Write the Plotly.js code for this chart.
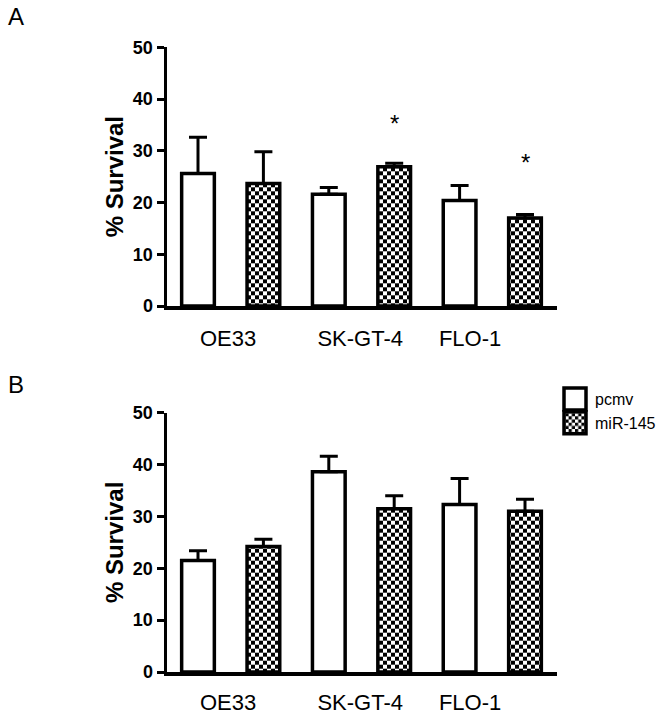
<!DOCTYPE html>
<html>
<head>
<meta charset="utf-8">
<script src="https://cdn.plot.ly/plotly-3.0.1.min.js"></script>
<style>
html,body{margin:0;padding:0;background:#fff;}
#chart{width:665px;height:715px;}
</style>
</head>
<body>
<div id="chart"></div>
<script>
// ---- data ----
var categories = ["OE33", "SK-GT-4", "FLO-1"];
var seriesNames = ["pcmv", "miR-145"];

// Panel A
var A_pcmv = [25.6, 21.6, 20.4];
var A_pcmv_err = [7.0, 1.3, 2.9];
var A_mir = [23.7, 26.9, 17.0];
var A_mir_err = [6.1, 0.7, 0.7];
var A_mir_sig = ["", "*", "*"];
var A_sigY = [0, 36.0, 28.5];

// Panel B
var B_pcmv = [21.5, 38.6, 32.3];
var B_pcmv_err = [1.9, 3.0, 5.0];
var B_mir = [24.2, 31.5, 31.0];
var B_mir_err = [1.4, 2.5, 2.3];

var yTicks = [0, 10, 20, 30, 40, 50];
var catTickPos = [0.46, 2.48, 4.16];

// ---- build ----
var xP = categories.map(function(c, i){ return 2*i; });
var xM = categories.map(function(c, i){ return 2*i + 1; });
var zeros = categories.map(function(){ return 0; });

var lineW = 3.5;
var barW = 0.5;

function barTrace(x, y, err, name, patterned, xa, ya, showleg){
  var t = {
    type: 'bar', x: x, y: y, name: name, width: barW,
    xaxis: xa, yaxis: ya, showlegend: showleg, legendgroup: name,
    marker: {color: 'white', line: {color: 'black', width: lineW}},
    error_y: {type: 'data', array: err, arrayminus: zeros, symmetric: false,
              color: 'black', thickness: 3, width: 9},
    hoverinfo: 'x+y'
  };
  if (patterned) {
    t.marker.pattern = {shape: '.', size: 8, solidity: 0.5, fgcolor: 'black', bgcolor: 'white', fillmode: 'replace'};
  }
  return t;
}

var data = [
  barTrace(xP, A_pcmv, A_pcmv_err, seriesNames[0], false, 'x', 'y', false),
  barTrace(xM, A_mir, A_mir_err, seriesNames[1], true, 'x', 'y', false),
  barTrace(xP, B_pcmv, B_pcmv_err, seriesNames[0], false, 'x2', 'y2', true),
  barTrace(xM, B_mir, B_mir_err, seriesNames[1], true, 'x2', 'y2', true)
];

var font = 'Liberation Sans, Arial, sans-serif';
var xDomain = [167/665, 557/665];
var xRange = [(167-198)/65.4, (557-198)/65.4];

function xAxis(anchor, standoff){
  return {
    domain: xDomain, range: xRange, anchor: anchor,
    showgrid: false, zeroline: false, showline: true, linecolor: 'black', linewidth: lineW,
    tickmode: 'array', tickvals: catTickPos, ticktext: categories,
    ticks: '', ticklabelstandoff: standoff,
    tickfont: {family: font, size: 22, color: 'black'}
  };
}
function yAxis(anchor, domain){
  return {
    domain: domain, range: [0, 50], anchor: anchor,
    showgrid: false, zeroline: false, showline: true, linecolor: 'black', linewidth: lineW,
    tickmode: 'array', tickvals: yTicks,
    ticks: 'outside', ticklen: 7, tickwidth: 3, tickcolor: 'black',
    tickfont: {family: font, size: 18, color: 'black', weight: 'bold'},
    title: {text: '% Survival', font: {family: font, size: 24, color: 'black', weight: 'bold'}, standoff: 3}
  };
}

var annotations = [
  {text: 'A', xref: 'paper', yref: 'paper', x: 6/665, y: 1 - 1/715, xanchor: 'left', yanchor: 'top',
   showarrow: false, font: {family: font, size: 24, color: 'black'}},
  {text: 'B', xref: 'paper', yref: 'paper', x: 6/665, y: 1 - 369/715, xanchor: 'left', yanchor: 'top',
   showarrow: false, font: {family: font, size: 24, color: 'black'}}
];
A_mir_sig.forEach(function(s, i){
  if (s) {
    annotations.push({text: s, x: xM[i], y: A_sigY[i], xref: 'x', yref: 'y',
      showarrow: false, xanchor: 'center', yanchor: 'middle', yshift: -4,
      font: {family: font, size: 24, color: 'black'}});
  }
});

var layout = {
  width: 665, height: 715,
  margin: {l: 0, r: 0, t: 0, b: 0},
  paper_bgcolor: 'white', plot_bgcolor: 'white',
  barmode: 'overlay',
  font: {family: font, color: 'black'},
  xaxis: xAxis('y', 10),
  yaxis: yAxis('x', [1 - 306/715, 1 - 47.3/715]),
  xaxis2: xAxis('y2', 8),
  yaxis2: yAxis('x2', [1 - 672/715, 1 - 412.7/715]),
  showlegend: true,
  legend: {x: 555/665, y: 1 - 382/715, xanchor: 'left', yanchor: 'top',
           font: {family: font, size: 16, color: 'black'}, bgcolor: 'rgba(0,0,0,0)',
           tracegroupgap: 0},
  annotations: annotations
};

function checker(){
  var ns = 'http://www.w3.org/2000/svg';
  document.querySelectorAll('#chart pattern').forEach(function(p){
    p.setAttribute('width', 8); p.setAttribute('height', 8);
    while (p.firstChild) p.removeChild(p.firstChild);
    [[0,0,8,8,'white'],[0,0,4,4,'black'],[4,4,4,4,'black']].forEach(function(r){
      var e = document.createElementNS(ns, 'rect');
      e.setAttribute('x', r[0]); e.setAttribute('y', r[1]);
      e.setAttribute('width', r[2]); e.setAttribute('height', r[3]);
      e.setAttribute('fill', r[4]);
      p.appendChild(e);
    });
  });
  document.querySelectorAll('#chart .legend .legendpoints path').forEach(function(pth){
    pth.setAttribute('d', 'M11,11H-11V-11H11Z');
    pth.style.strokeWidth = '3.5px';
  });
}

Plotly.newPlot('chart', data, layout, {staticPlot: true}).then(checker);
</script>
</body>
</html>
